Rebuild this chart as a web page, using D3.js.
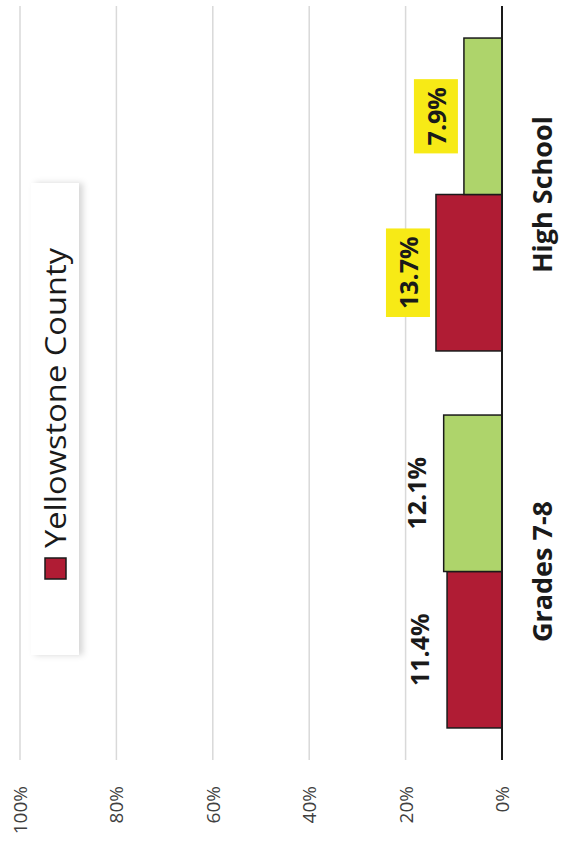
<!DOCTYPE html>
<html>
<head>
<meta charset="utf-8">
<script src="https://cdn.jsdelivr.net/npm/d3@7"></script>
<style>
  body { margin: 0; background: #fff; }
  svg { display: block; font-family: "Open Sans", "Noto Sans", sans-serif; }
</style>
</head>
<body>
<svg id="chart" width="562" height="849"></svg>
<script>
// chart data
const categories = ["Grades 7-8", "High School"];
const seriesNames = ["Yellowstone County", "Comparison"];
const yellowstone = [11.4, 13.7];
const comparison = [12.1, 7.9];
const highlightCategories = ["High School"];
const tickValues = [0, 20, 40, 60, 80, 100];

const colors = { "Yellowstone County": "#b01c34", "Comparison": "#aed46b" };

const svg = d3.select("#chart");

// draw in the unrotated frame (849 wide, 562 tall), then turn it a quarter left
const W = 849;
const g = svg.append("g").attr("transform", `translate(0,${W}) rotate(-90)`);

const defs = svg.append("defs");
const shadow = defs.append("filter").attr("id", "shadow")
    .attr("x", "-10%").attr("y", "-30%").attr("width", "120%").attr("height", "160%");
shadow.append("feDropShadow")
    .attr("dx", 0).attr("dy", 4).attr("stdDeviation", 3)
    .attr("flood-color", "#000").attr("flood-opacity", 0.16);

const x = d3.scaleBand()
    .domain(categories)
    .range([89, 843])
    .paddingInner(0.17)
    .paddingOuter(0.085);

const x1 = d3.scaleBand()
    .domain(seriesNames)
    .range([0, x.bandwidth()]);

const y = d3.scaleLinear()
    .domain([0, 100])
    .range([502, 20]);

// gridlines
g.append("g")
    .selectAll("line")
    .data(tickValues.filter(d => d > 0))
    .enter().append("line")
    .attr("x1", 89).attr("x2", 843)
    .attr("y1", d => y(d)).attr("y2", d => y(d))
    .attr("stroke", "#d9d9d9")
    .attr("stroke-width", 1.5);

// value axis labels
g.append("g")
    .selectAll("text")
    .data(tickValues)
    .enter().append("text")
    .attr("x", 63)
    .attr("y", d => y(d))
    .attr("text-anchor", "end")
    .attr("dominant-baseline", "central")
    .attr("font-size", 19)
    .attr("fill", "#404040")
    .text(d => d + "%");

// legend
const legend = g.append("g");
legend.append("rect")
    .attr("x", 194).attr("y", 31)
    .attr("width", 472).attr("height", 48)
    .attr("fill", "#fff")
    .attr("filter", "url(#shadow)");
legend.append("rect")
    .attr("x", 270).attr("y", 45)
    .attr("width", 21).attr("height", 21)
    .attr("fill", colors[seriesNames[0]])
    .attr("stroke", "#1a1a1a")
    .attr("stroke-width", 1.5);
legend.append("text")
    .attr("x", 301).attr("y", 66)
    .attr("font-size", 30)
    .attr("fill", "#1a1a1a")
    .attr("textLength", 300)
    .attr("lengthAdjust", "spacingAndGlyphs")
    .text(seriesNames[0]);

// bars
const rows = categories.map((c, i) => ({
    category: c,
    values: [
        { key: seriesNames[0], value: yellowstone[i] },
        { key: seriesNames[1], value: comparison[i] }
    ]
}));

const groups = g.selectAll(".cat")
    .data(rows)
    .enter().append("g")
    .attr("class", "cat")
    .attr("transform", d => `translate(${x(d.category)},0)`);

groups.selectAll("rect")
    .data(d => d.values)
    .enter().append("rect")
    .attr("x", d => x1(d.key))
    .attr("width", x1.bandwidth())
    .attr("y", d => y(d.value))
    .attr("height", d => y(0) - y(d.value))
    .attr("fill", d => colors[d.key])
    .attr("stroke", "#1a1a1a")
    .attr("stroke-width", 1.5);

// value labels, with yellow highlight boxes where needed
groups.each(function(row) {
    const grp = d3.select(this);
    row.values.forEach(d => {
        const cx = x1(d.key) + x1.bandwidth() / 2;
        const cy = y(d.value) - 28;
        const t = grp.append("text")
            .attr("x", cx)
            .attr("y", cy)
            .attr("text-anchor", "middle")
            .attr("dominant-baseline", "central")
            .attr("font-size", 25)
            .attr("font-weight", "bold")
            .attr("fill", "#1a1a1a")
            .text(d.value.toFixed(1) + "%");
        if (highlightCategories.includes(row.category)) {
            const bb = t.node().getBBox();
            grp.insert("rect", "text")
                .attr("x", bb.x - 8)
                .attr("y", cy - 22)
                .attr("width", bb.width + 16)
                .attr("height", 44)
                .attr("fill", "#f7ea16");
        }
    });
});

// zero line
g.append("line")
    .attr("x1", 89).attr("x2", 843)
    .attr("y1", y(0)).attr("y2", y(0))
    .attr("stroke", "#1a1a1a")
    .attr("stroke-width", 2);

// category labels
g.append("g")
    .selectAll("text")
    .data(categories)
    .enter().append("text")
    .attr("x", d => x(d) + x.bandwidth() / 2)
    .attr("y", 552)
    .attr("text-anchor", "middle")
    .attr("font-size", 27)
    .attr("font-weight", "bold")
    .attr("fill", "#1a1a1a")
    .text(d => d);
</script>
</body>
</html>
